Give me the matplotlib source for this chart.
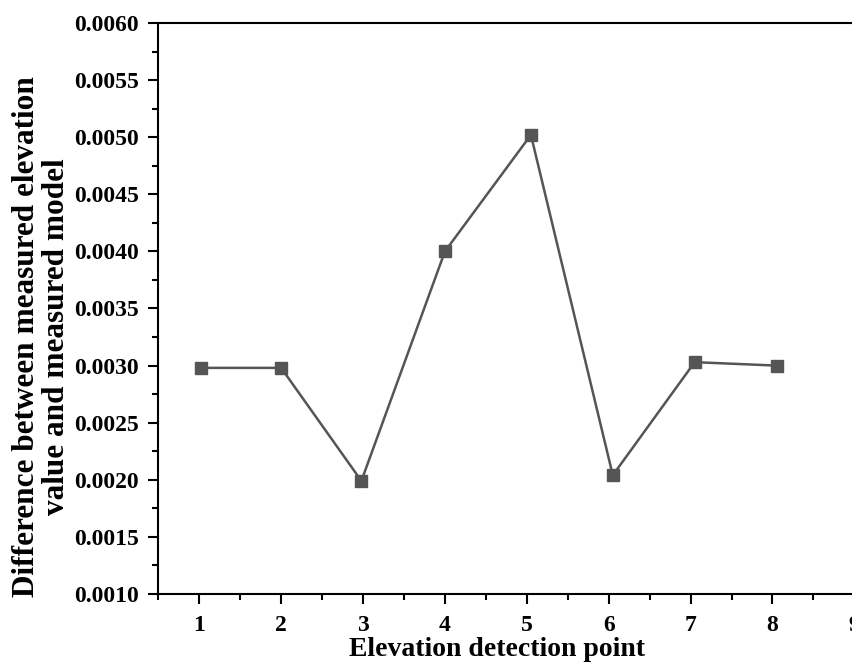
import numpy as np
import matplotlib
matplotlib.use("Agg")
from matplotlib import pyplot as plt
from matplotlib.ticker import MultipleLocator

# values
points = [1.02, 2.0, 2.98, 4.0, 5.05, 6.05, 7.05, 8.05]
diff = [0.00298, 0.00298, 0.00199, 0.00400, 0.00502, 0.00204, 0.00303, 0.00300]
x_ticks = [1, 2, 3, 4, 5, 6, 7, 8, 9]

plt.rcParams['font.family'] = ['Liberation Serif', 'DejaVu Serif']
plt.rcParams['font.weight'] = 'bold'

fig = plt.figure(figsize=(8.53, 6.63), dpi=100)
# axes runs past the right edge of the picture, as in the original
ax = fig.add_axes([0.1856, 0.1041, 0.864, 0.8612])

ax.plot(points, diff, color='#555555', linewidth=1.8, marker='s', markersize=8,
        markerfacecolor='#555555', markeredgecolor='#555555')

ax.set_xlim(0.5, 9.5)
ax.set_ylim(0.0010, 0.0060)
ax.set_xticks(x_ticks)
ax.xaxis.set_minor_locator(MultipleLocator(0.5))
ax.yaxis.set_major_locator(MultipleLocator(0.0005))
ax.yaxis.set_minor_locator(MultipleLocator(0.00025))
ax.yaxis.set_major_formatter(matplotlib.ticker.FormatStrFormatter('%.4f'))

for s in ax.spines.values():
    s.set_linewidth(1.5)
ax.tick_params(which='major', direction='out', length=7, width=1.5, labelsize=17, pad=7)
ax.tick_params(which='minor', direction='out', length=4, width=1.5)
ax.tick_params(axis='x', which='major', pad=8)

ax.set_xlabel('Elevation detection point', fontsize=20, fontweight='bold')
ax.xaxis.set_label_coords(0.46, -0.076)
ax.set_ylabel('Difference between measured elevation\nvalue and measured model',
              fontsize=22.5, fontweight='bold', linespacing=1.08)
ax.yaxis.set_label_coords(-0.118, 0.45)

fig.savefig('out.png', dpi=100)
